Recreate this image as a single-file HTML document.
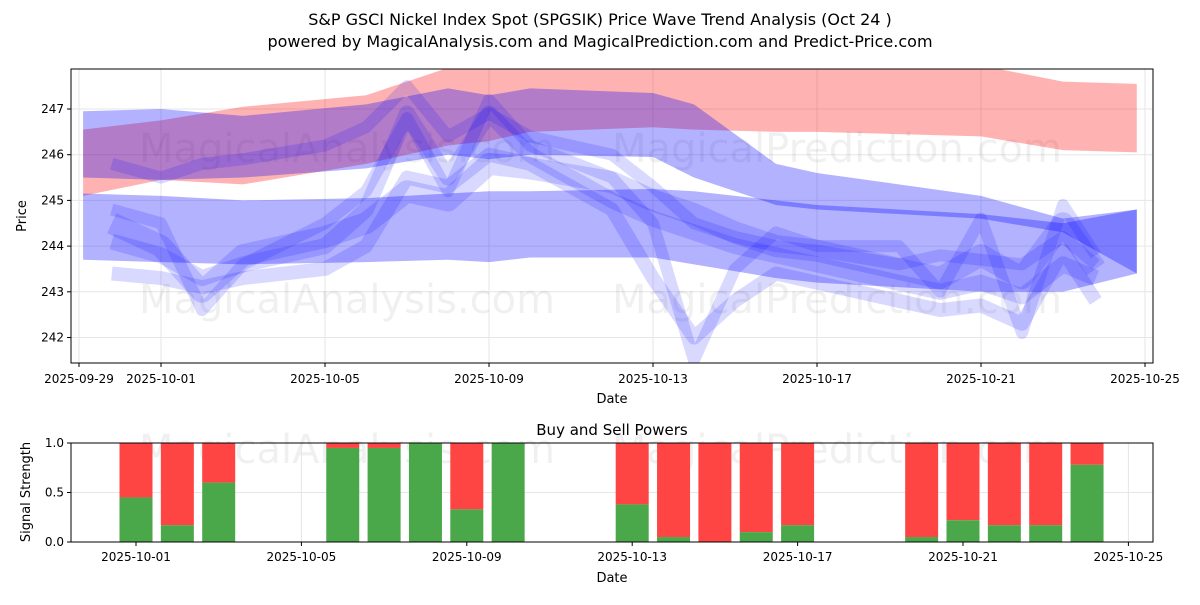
<!DOCTYPE html>
<html><head><meta charset="utf-8">
<style>
body{margin:0;background:#fff;font-family:"Liberation Sans","DejaVu Sans",sans-serif;}
svg text{font-family:"DejaVu Sans","Liberation Sans",sans-serif;}
</style></head>
<body>
<svg id="c" width="1200" height="600" xmlns="http://www.w3.org/2000/svg">
<defs><clipPath id="cp"><rect x="71" y="69" width="1082" height="294"/></clipPath></defs>
<rect width="1200" height="600" fill="#fff"/>
<text x="600" y="25" text-anchor="middle" font-size="16">S&amp;P GSCI Nickel Index Spot (SPGSIK) Price Wave Trend Analysis (Oct 24 )</text>
<text x="600" y="47" text-anchor="middle" font-size="16">powered by MagicalAnalysis.com and MagicalPrediction.com and Predict-Price.com</text>
<g id="top"></g><g id="marks" clip-path="url(#cp)"></g><g id="topframe"></g><g id="bot"></g>
</svg>
<script>
// day offsets from 2025-09-29
const xTickDays=[0,2,6,10,14,18,22,26];
const xTickLabels=["2025-09-29","2025-10-01","2025-10-05","2025-10-09","2025-10-13","2025-10-17","2025-10-21","2025-10-25"];
const yTicks=[242,243,244,245,246,247];
const bandDays=[0.1,2,4,7,9,10,11,14,15,17,18,22,24,25.8];
const redUpper=[246.55,246.75,247.05,247.3,247.9,247.95,248,248,248,248,248,247.95,247.6,247.55];
const redLower=[245.1,245.45,245.35,245.8,246.2,246.3,246.5,246.6,246.55,246.5,246.5,246.4,246.1,246.05];
const blueUpper=[246.95,247,246.85,247.1,247.45,247.3,247.45,247.35,247.1,245.8,245.6,245.1,244.6,244.8];
const blueLower=[245.5,245.45,245.5,245.7,246.0,245.9,246.0,245.95,245.5,244.9,244.8,244.6,244.3,243.4];
const band2Upper=[245.15,245.1,245.0,245.05,245.15,245.2,245.2,245.25,245.2,245.0,244.9,244.7,244.5,244.8];
const band2Lower=[243.7,243.65,243.6,243.65,243.7,243.65,243.75,243.75,243.6,243.3,243.2,243.0,243.0,243.4];
const waveDays=[0.8,2,3,4,6,7,8,9,10,11,13,14,15,16,17,18,20,21,22,23,24,24.8];
const wave1=[244.5,244.0,243.0,243.8,244.2,244.5,245.2,245.0,245.8,245.7,245.4,245.0,244.7,244.3,244.0,243.9,243.5,243.3,243.8,243.3,244.5,243.5];
const wave2=[244.1,243.8,243.3,243.6,244.0,244.8,246.9,245.5,246.9,246.0,245.0,244.6,244.3,244.0,243.8,243.6,243.2,243.0,243.2,242.9,243.6,243.3];
const wave3=[243.4,243.3,243.1,243.3,243.5,244.0,245.5,245.3,246.0,245.8,244.8,243.3,242.0,242.8,243.4,243.2,242.8,242.6,242.7,242.3,243.9,242.8];
const wave4=[244.8,244.5,242.6,243.6,244.5,245.2,246.8,245.2,247.2,246.2,245.5,244.5,241.5,243.5,244.3,244.0,244.0,243.0,244.6,242.1,244.9,243.8];
const wave5=[245.8,245.5,245.8,245.9,246.2,246.6,247.5,246.4,246.9,246.4,246.0,245.3,244.5,244.2,244.0,243.9,243.6,243.8,243.7,243.6,244.2,243.6];
const barDays=[2,3,4,7,8,9,10,11,14,15,16,17,18,21,22,23,24,25];
const buyVals=[0.45,0.17,0.6,0.95,0.95,1.0,0.33,1.0,0.38,0.05,0,0.1,0.17,0.05,0.22,0.17,0.17,0.78];
const NS="http://www.w3.org/2000/svg";
const X0=71,X1=1153;
const xs=d=>161+41*(d-2);
const xb=d=>136+41.35*(d-2);
const ysT=v=>109+(247-v)*45.7;
const ysB=v=>542-v*99;
function mk(tag,at,par){const e=document.createElementNS(NS,tag);for(const k in at)e.setAttribute(k,at[k]);par.appendChild(e);return e;}
const gTop=document.getElementById('top'),gBot=document.getElementById('bot'),gMarks=document.getElementById('marks'),gFrame=document.getElementById('topframe');
xTickDays.forEach((d,i)=>{const g=mk('line',{x1:xs(d),x2:xs(d),y1:69,y2:363,stroke:'#e6e6e6'},gTop);

mk('line',{x1:xs(d),x2:xs(d),y1:363,y2:367,stroke:'#000'},gTop);
const t=mk('text',{x:xs(d),y:383,'text-anchor':'middle','font-size':12},gTop);t.textContent=xTickLabels[i];
});
yTicks.forEach(v=>{mk('line',{x1:X0,x2:X1,y1:ysT(v),y2:ysT(v),stroke:'#e6e6e6'},gTop);
mk('line',{x1:X0-4,x2:X0,y1:ysT(v),y2:ysT(v),stroke:'#000'},gTop);
const t=mk('text',{x:X0-7,y:ysT(v)+4,'text-anchor':'end','font-size':12},gTop);t.textContent=v;
});
[[347,162],[837,162],[347,313],[837,313],[347,463],[837,463]].forEach(p=>{const t=mk('text',{x:p[0],y:p[1],'text-anchor':'middle','font-size':40,fill:'#000','fill-opacity':0.06},gTop);
t.textContent=p[0]<600?'MagicalAnalysis.com':'MagicalPrediction.com';
});
function band(up,lo,col,name){let pts=bandDays.map((d,i)=>xs(d)+','+ysT(up[i]));
pts=pts.concat(bandDays.map((d,i)=>xs(d)+','+ysT(lo[i])).reverse());
const p=mk('polygon',{points:pts.join(' '),fill:col},gMarks);
}
band(redUpper,redLower,'rgba(255,0,0,0.3)','red-band');
band(blueUpper,blueLower,'rgba(0,0,255,0.3)','blue-upper-band');
band(band2Upper,band2Lower,'rgba(0,0,255,0.3)','blue-lower-band');
[[wave1,22],[wave2,16],[wave3,14],[wave4,12],[wave5,12]].forEach((w,k)=>{
const pts=waveDays.map((d,i)=>xs(d)+','+ysT(w[0][i])).join(' ');
const p=mk('polyline',{points:pts,fill:'none',stroke:'rgba(0,0,255,0.15)','stroke-width':w[1],'stroke-linejoin':'round'},gMarks);
});
mk('rect',{x:X0,y:69,width:X1-X0,height:294,fill:'none',stroke:'#000'},gFrame);
let tt=mk('text',{x:612,y:403,'text-anchor':'middle','font-size':13},gFrame);tt.textContent='Date';

tt=mk('text',{x:26,y:216,'text-anchor':'middle','font-size':13,transform:'rotate(-90 26 216)'},gFrame);tt.textContent='Price';

[0,0.5,1].forEach(v=>{mk('line',{x1:X0,x2:X1,y1:ysB(v),y2:ysB(v),stroke:'#e6e6e6'},gBot);
mk('line',{x1:X0-4,x2:X0,y1:ysB(v),y2:ysB(v),stroke:'#000'},gBot);
const t=mk('text',{x:X0-7,y:ysB(v)+4,'text-anchor':'end','font-size':12},gBot);t.textContent=v.toFixed(1);
});
xTickDays.slice(1).forEach((d,i)=>{mk('line',{x1:xb(d),x2:xb(d),y1:443,y2:542,stroke:'#e6e6e6'},gBot);
mk('line',{x1:xb(d),x2:xb(d),y1:542,y2:546,stroke:'#000'},gBot);
const t=mk('text',{x:xb(d),y:561,'text-anchor':'middle','font-size':12},gBot);t.textContent=xTickLabels[i+1];
});
barDays.forEach((d,i)=>{const x=xb(d)-16.5,g=buyVals[i];
const r=mk('rect',{x:x,y:ysB(1),width:33,height:ysB(g)-ysB(1),fill:'#ff4444'},gBot);

const b=mk('rect',{x:x,y:ysB(g),width:33,height:ysB(0)-ysB(g),fill:'#4aa84a'},gBot);
});
mk('rect',{x:X0,y:443,width:X1-X0,height:99,fill:'none',stroke:'#000'},gBot);
tt=mk('text',{x:612,y:435,'text-anchor':'middle','font-size':15},gBot);tt.textContent='Buy and Sell Powers';

tt=mk('text',{x:612,y:582,'text-anchor':'middle','font-size':13},gBot);tt.textContent='Date';

tt=mk('text',{x:30,y:492,'text-anchor':'middle','font-size':13,transform:'rotate(-90 30 492)'},gBot);tt.textContent='Signal Strength';

</script>
</body></html>
